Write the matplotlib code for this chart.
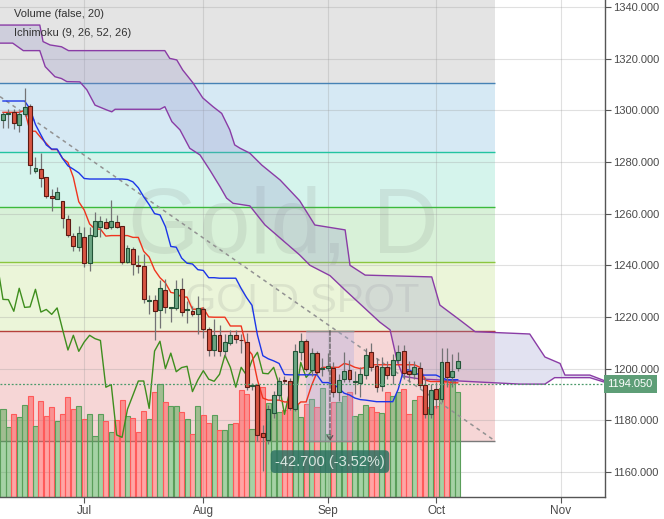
import numpy as np
import pandas as pd
import matplotlib
matplotlib.use("Agg")
import matplotlib.pyplot as plt
import matplotlib.transforms as mtransforms
from matplotlib.patches import Polygon, Rectangle

plt.rcParams["font.family"] = ["Liberation Sans", "DejaVu Sans"]

# -------------------------------
# 1. Data (daily bars, gold spot)
# -------------------------------
start_date = "2018-06-11"

opens = [1296.1, 1298.6, 1299.2, 1294.2, 1298.5, 1301.6, 1276.4, 1277.2, 1274.1, 1266.8,
         1265.6, 1264.8, 1257.8, 1251.2, 1247.0, 1250.8, 1241.0, 1251.2, 1254.7, 1256.7,
         1254.7, 1256.7, 1255.1, 1241.2, 1246.2, 1240.3, 1239.6, 1226.3, 1226.5, 1222.6,
         1230.3, 1223.5, 1223.4, 1230.9, 1222.6, 1222.2, 1221.1, 1223.1, 1215.2, 1207.2,
         1212.9, 1206.7, 1210.0, 1213.1, 1211.1, 1210.2, 1193.4, 1193.5, 1175.0, 1172.5,
         1182.7, 1189.7, 1195.6, 1195.2, 1184.4, 1206.3, 1210.7, 1199.5, 1206.0, 1199.7,
         1200.2, 1200.1, 1191.1, 1195.9, 1199.5, 1194.8, 1194.3, 1197.4, 1206.3, 1200.9,
         1193.3, 1200.5, 1197.4, 1203.2, 1206.7, 1199.0, 1197.8, 1200.1, 1193.8, 1182.3,
         1192.0, 1188.1, 1202.4, 1196.6, 1200.4]
highs = [1299.5, 1300.6, 1300.5, 1299.7, 1308.5, 1302.3, 1281.9, 1283.5, 1274.2, 1269.4,
         1270.2, 1264.8, 1259.5, 1252.4, 1255.2, 1255.0, 1255.0, 1260.6, 1259.1, 1258.3,
         1265.3, 1259.4, 1255.3, 1247.9, 1247.2, 1244.0, 1244.3, 1228.5, 1228.6, 1234.3,
         1234.6, 1224.0, 1234.4, 1234.9, 1226.1, 1224.4, 1228.1, 1224.0, 1216.0, 1219.2,
         1216.7, 1213.5, 1215.0, 1215.0, 1213.4, 1213.6, 1194.5, 1194.0, 1178.0, 1186.0,
         1191.5, 1196.8, 1197.0, 1196.2, 1209.6, 1213.7, 1211.5, 1208.0, 1207.0, 1204.0,
         1206.0, 1202.7, 1198.0, 1206.6, 1203.3, 1199.0, 1200.7, 1207.9, 1209.8, 1204.0,
         1204.5, 1203.0, 1205.5, 1209.1, 1209.0, 1203.0, 1203.0, 1202.5, 1196.9, 1194.0,
         1195.0, 1208.0, 1208.0, 1205.7, 1206.5]
lows = [1293.0, 1293.0, 1292.8, 1291.6, 1297.8, 1275.3, 1275.7, 1270.3, 1266.0, 1261.0,
        1265.6, 1254.3, 1251.0, 1245.7, 1245.7, 1239.2, 1237.7, 1250.8, 1250.8, 1254.0,
        1254.0, 1254.5, 1240.5, 1240.8, 1236.2, 1236.9, 1225.5, 1221.0, 1211.0, 1215.6,
        1221.5, 1218.2, 1222.5, 1220.5, 1217.5, 1220.5, 1213.4, 1212.0, 1205.0, 1204.9,
        1205.0, 1205.0, 1209.0, 1210.0, 1206.0, 1191.7, 1191.9, 1172.0, 1160.5, 1171.0,
        1181.0, 1188.0, 1194.0, 1184.0, 1183.5, 1203.5, 1199.0, 1197.0, 1197.5, 1197.0,
        1199.0, 1189.0, 1187.5, 1195.0, 1195.0, 1190.0, 1188.9, 1196.0, 1199.0, 1191.0,
        1191.5, 1196.0, 1194.0, 1202.0, 1196.0, 1195.0, 1196.0, 1192.5, 1180.8, 1180.8,
        1184.6, 1187.0, 1193.0, 1193.0, 1199.0]
closes = [1298.5, 1299.0, 1295.0, 1298.5, 1301.2, 1278.7, 1277.6, 1273.7, 1266.7, 1265.9,
          1268.3, 1258.2, 1251.6, 1247.4, 1252.4, 1241.0, 1251.6, 1257.0, 1257.0, 1254.3,
          1257.0, 1254.8, 1241.3, 1246.6, 1240.5, 1239.8, 1226.8, 1226.7, 1222.2, 1231.1,
          1223.7, 1223.9, 1230.7, 1221.9, 1222.9, 1221.0, 1223.5, 1215.2, 1207.2, 1212.9,
          1206.7, 1210.3, 1212.9, 1211.6, 1210.9, 1192.8, 1193.8, 1174.3, 1173.4, 1184.3,
          1189.7, 1195.2, 1195.2, 1184.6, 1206.8, 1210.6, 1200.0, 1206.0, 1198.8, 1200.4,
          1200.9, 1191.1, 1195.6, 1199.2, 1195.9, 1195.1, 1197.8, 1205.2, 1200.5, 1192.8,
          1200.5, 1197.4, 1203.2, 1206.3, 1198.2, 1198.0, 1200.5, 1193.8, 1182.3, 1191.6,
          1188.1, 1202.4, 1196.6, 1199.0, 1202.9]
volume = [88, 70, 83, 80, 92, 101, 71, 96, 81, 90,
          76, 83, 100, 88, 91, 78, 83, 61, 83, 76,
          65, 77, 97, 81, 79, 65, 86, 78, 105, 113,
          95, 91, 91, 85, 78, 63, 91, 82, 74, 82,
          67, 67, 73, 74, 107, 103, 68, 110, 110, 94,
          89, 85, 87, 95, 93, 80, 93, 98, 90, 109,
          63, 95, 95, 101, 105, 81, 83, 92, 90, 85,
          84, 105, 101, 105, 108, 83, 97, 101, 90, 88,
          91, 109, 115, 116, 105]

# Ichimoku lines as seen on the chart
tenkan = [1299.2, 1299.2, 1299.2, 1299.2, 1300.0, 1291.9, 1291.9, 1289.4, 1287.2, 1284.8,
          1284.8, 1281.4, 1279.8, 1274.0, 1264.6, 1261.4, 1256.0, 1254.0, 1254.0, 1251.3,
          1251.5, 1251.5, 1251.5, 1251.5, 1250.8, 1250.8, 1245.4, 1243.2, 1238.2, 1235.2,
          1233.2, 1229.5, 1229.1, 1227.7, 1227.7, 1223.0, 1223.0, 1223.5, 1220.0, 1219.9,
          1219.9, 1219.9, 1216.5, 1216.5, 1216.5, 1207.9, 1205.5, 1195.6, 1188.6, 1187.8,
          1187.8, 1187.8, 1187.1, 1187.1, 1185.1, 1187.1, 1187.1, 1193.5, 1198.5, 1200.5,
          1200.5, 1200.5, 1200.5, 1202.0, 1201.5, 1200.5, 1200.0, 1200.5, 1201.5, 1201.5,
          1201.5, 1201.5, 1201.5, 1201.5, 1201.5, 1201.5, 1201.5, 1200.5, 1195.5, 1195.0,
          1195.0, 1195.0, 1195.0, 1194.5, 1194.5]
kijun = [1303.6, 1303.6, 1303.6, 1303.6, 1303.6, 1300.5, 1294.5, 1290.5, 1286.6, 1285.0,
         1285.0, 1281.4, 1278.5, 1277.2, 1275.8, 1273.6, 1273.4, 1273.4, 1273.4, 1273.4,
         1273.4, 1273.4, 1273.4, 1273.2, 1272.3, 1270.0, 1266.5, 1263.5, 1260.0, 1259.5,
         1255.0, 1247.3, 1247.0, 1242.8, 1240.8, 1240.5, 1238.3, 1238.0, 1235.2, 1235.2,
         1235.0, 1235.0, 1235.0, 1235.0, 1231.0, 1227.5, 1224.5, 1213.0, 1205.0, 1203.8,
         1203.0, 1202.0, 1197.7, 1197.6, 1197.6, 1197.6, 1197.6, 1197.6, 1197.6, 1194.6,
         1194.6, 1194.0, 1192.5, 1190.5, 1189.8, 1188.6, 1188.0, 1187.8, 1187.5, 1187.2,
         1187.2, 1187.2, 1187.2, 1192.0, 1199.5, 1199.5, 1198.5, 1197.5, 1197.5, 1197.5,
         1197.5, 1196.5, 1195.7, 1195.7, 1195.7]

# cloud edges (bar number, price), projected 26 bars ahead
span1_bars = [-1, 6.8, 7.4, 8.7, 10.8, 12.1, 29.9, 30.8, 32.1, 33.2,
              35.1, 36.9, 38.8, 40.4, 41.9, 42.8, 43.8, 45.6, 47.8, 51.2,
              54.8, 57.6, 63.2, 64.1, 66.9, 79.2, 80.7, 84.4, 87.2, 97.3,
              100.1, 102.9, 103.8, 108.4, 111.5]
span1 = [1333.0, 1333.0, 1326.6, 1325.3, 1324.6, 1323.1, 1323.1, 1320.1, 1319.5, 1315.6,
         1310.6, 1304.8, 1301.4, 1298.8, 1292.4, 1286.6, 1285.3, 1283.4, 1278.8, 1273.0,
         1265.0, 1255.6, 1253.7, 1240.0, 1236.2, 1235.5, 1224.6, 1218.8, 1214.3, 1213.4,
         1204.5, 1202.0, 1197.5, 1197.5, 1195.0]
span2_bars = [-1, 1.8, 3.75, 6.8, 7.8, 9.6, 10.8, 11.8, 14.2, 15.5,
              17.0, 19.2, 20.1, 20.7, 29.0, 29.9, 31.2, 32.7, 34.5, 36.4,
              38.2, 40.1, 41.3, 42.5, 45.6, 48.4, 54.8, 56.7, 60.4, 63.2,
              69.6, 71.5, 72.8, 73.9, 77.0, 86.2, 95.5, 100.1, 101.9, 108.4,
              111.5]
span2 = [1326.0, 1326.0, 1323.1, 1323.1, 1316.9, 1313.0, 1312.3, 1311.1, 1311.0, 1307.9,
         1302.0, 1300.1, 1299.4, 1300.4, 1300.4, 1301.4, 1295.6, 1292.4, 1285.3, 1282.7,
         1276.9, 1270.4, 1266.0, 1264.0, 1263.0, 1255.6, 1244.0, 1240.0, 1236.0, 1230.4,
         1218.0, 1215.0, 1203.0, 1197.0, 1196.0, 1195.0, 1194.0, 1194.0, 1196.5, 1196.5,
         1194.5]

# drawings on the chart
fib_levels = [1172.0, 1214.7, 1241.3, 1262.5, 1283.8, 1310.4, 1352.9]
fib_bars = [-1, 90.9]
trend_bars = [-0.55, 90.9]
trend_prices = [1305.3, 1172.0]
measure_bars = [56.0, 64.8]
measure_prices = [1214.7, 1172.0]
last_price = 1194.05
price_ticks = [1160, 1180, 1200, 1220, 1240, 1260, 1280, 1300, 1320, 1340]

# -------------------------------
# 2. Figure
# -------------------------------
dates = pd.bdate_range(start_date, periods=112)
n = len(closes)
x = np.arange(n)
o, h, l, c = map(np.array, (opens, highs, lows, closes))
up = c >= o

fig = plt.figure(figsize=(6.64, 5.19), dpi=100)
ax = fig.add_axes([0, 22 / 519, 605 / 664, 497 / 519])
ax.set_xlim(-0.55, 111.2)
ax.set_ylim(1150.3, 1342.7)

# fib retracement bands
band_colors = ["#f6d6d6", "#ebf5d9", "#d8f1d8", "#d5f4ec", "#d6e9f4", "#e4e4e4"]
line_colors = ["#7a7a7a", "#b5403a", "#8cc63f", "#3cba3c", "#22c4a0", "#4682b4", "#808080"]
for i in range(len(fib_levels) - 1):
    ax.fill_between(fib_bars, fib_levels[i], fib_levels[i + 1], color=band_colors[i], lw=0, zorder=0.2)
ax.hlines(fib_levels, fib_bars[0], fib_bars[1], colors=line_colors, lw=1, zorder=0.6)

# watermark
ax.text(0.468, 1 - 253 / 497, "Gold, D", transform=ax.transAxes, ha="center", va="baseline",
        fontsize=66, color="#7f7f7f", alpha=0.15, zorder=0.7)
ax.text(0.5, 1 - 312 / 497, "GOLD SPOT", transform=ax.transAxes, ha="center", va="baseline",
        fontsize=29, color="#7f7f7f", alpha=0.15, zorder=0.7)

# volume in the lower part of the pane
vtrans = mtransforms.blended_transform_factory(ax.transData, ax.transAxes)
vol = np.array(volume, dtype=float)
vscale = vol.max() / 0.233
for i in range(n):
    if up[i]:
        fc, ec = (0.30, 0.65, 0.30, 0.5), "#5a9e5a"
    else:
        fc, ec = (1.0, 0.30, 0.30, 0.5), "#ff5a5a"
    ax.add_patch(Rectangle((i - 0.47, 0), 0.94, vol[i] / vscale, transform=vtrans,
                           facecolor=fc, edgecolor=ec, lw=0.8, zorder=1))

# ichimoku cloud
poly = list(zip(span1_bars, span1)) + list(zip(span2_bars[::-1], span2[::-1]))
ax.add_patch(Polygon(poly, closed=True, facecolor="#8f8fc8", alpha=0.25, lw=0, zorder=1.5))
ax.plot(span1_bars, span1, color="#8a3ca6", lw=1.0, zorder=2)
ax.plot(span2_bars, span2, color="#8a3ca6", lw=1.0, zorder=2)

# trend line
ax.plot(trend_bars, trend_prices, color="#929292", lw=1.1, ls=(0, (2.5, 2.5)), zorder=2.2)

# price range measurement
m0, m1 = measure_bars
p0, p1 = measure_prices
mid = (m0 + m1) / 2
ax.add_patch(Rectangle((m0, p1), m1 - m0, p0 - p1, facecolor="#a9a9e0", alpha=0.33, lw=0, zorder=2.5))
ax.hlines([p0, p1], m0, m1, colors="#8a8a8a", lw=1, zorder=2.6)
ax.annotate("", xy=(mid, p1), xytext=(mid, p0),
            arrowprops=dict(arrowstyle="->,head_length=0.3,head_width=0.2", color="#555555",
                            lw=0.9, ls="--", shrinkA=0, shrinkB=0), zorder=2.6)

# ichimoku lines
ax.plot(x - 26, c, color="#3e8e1e", lw=1.0, zorder=3)
ax.plot(x, tenkan, color="#f0341e", lw=1.0, zorder=3)
ax.plot(x, kijun, color="#1c36e8", lw=1.0, zorder=3)

# candles
ax.vlines(x, l, h, color="#737375", lw=0.9, zorder=4)
body_lo = np.minimum(o, c)
body_h = np.maximum(np.abs(c - o), 0.35)
ax.bar(x[up], body_h[up], 0.72, bottom=body_lo[up], color="#6ba583", edgecolor="#225437", lw=0.8, zorder=5)
ax.bar(x[~up], body_h[~up], 0.72, bottom=body_lo[~up], color="#d75442", edgecolor="#5b1a13", lw=0.8, zorder=5)

# last price line and label
ax.axhline(last_price, color="#4a9a6a", lw=0.9, ls=(0, (1.5, 1.5)), zorder=6)
ptrans = mtransforms.blended_transform_factory(ax.transAxes, ax.transData)
ax.text(1.004, last_price, f"{last_price:.3f}", transform=ptrans, ha="left", va="center",
        fontsize=8, color="white", zorder=10, clip_on=False,
        bbox=dict(boxstyle="square,pad=0.35", fc="#5e9e77", ec="none"))

# measurement label
delta = p1 - p0
ax.text(mid, 1164.0, f"{delta:.3f} ({delta / p0 * 100:.2f}%)", ha="center", va="center",
        fontsize=10.5, color="#d8e6e0", zorder=9,
        bbox=dict(boxstyle="round,pad=0.3,rounding_size=0.3", fc="#2e7363", ec="none", alpha=0.85))

# legend text
ax.text(14 / 605, 1 - 14 / 497, "Volume (false, 20)", transform=ax.transAxes, fontsize=8, color="#333333", va="center")
ax.text(14 / 605, 1 - 33 / 497, "Ichimoku (9, 26, 52, 26)", transform=ax.transAxes, fontsize=8, color="#333333", va="center")

# axes
month = pd.Series(dates.month)
month_pos = np.where(month.diff().fillna(0) != 0)[0]
ax.set_xticks(month_pos)
ax.set_xticklabels(dates[month_pos].strftime("%b"))
ax.yaxis.tick_right()
ax.set_yticks(price_ticks)
ax.set_yticklabels([f"{p:.3f}" for p in price_ticks])
ax.tick_params(axis="y", length=4, width=0.8, color="#555555", labelsize=8, labelcolor="#4a4a4a", pad=1.5)
ax.tick_params(axis="x", length=4, width=0.8, color="#555555", labelsize=8.5, labelcolor="#4a4a4a", pad=2)
ax.grid(True, color="#9a9a9a", alpha=0.3, lw=0.8)
ax.set_axisbelow(True)
for side in ["top", "left"]:
    ax.spines[side].set_visible(False)
for side in ["right", "bottom"]:
    ax.spines[side].set_color("#555555")
    ax.spines[side].set_linewidth(1)

fig.savefig("out.png", dpi=100)
